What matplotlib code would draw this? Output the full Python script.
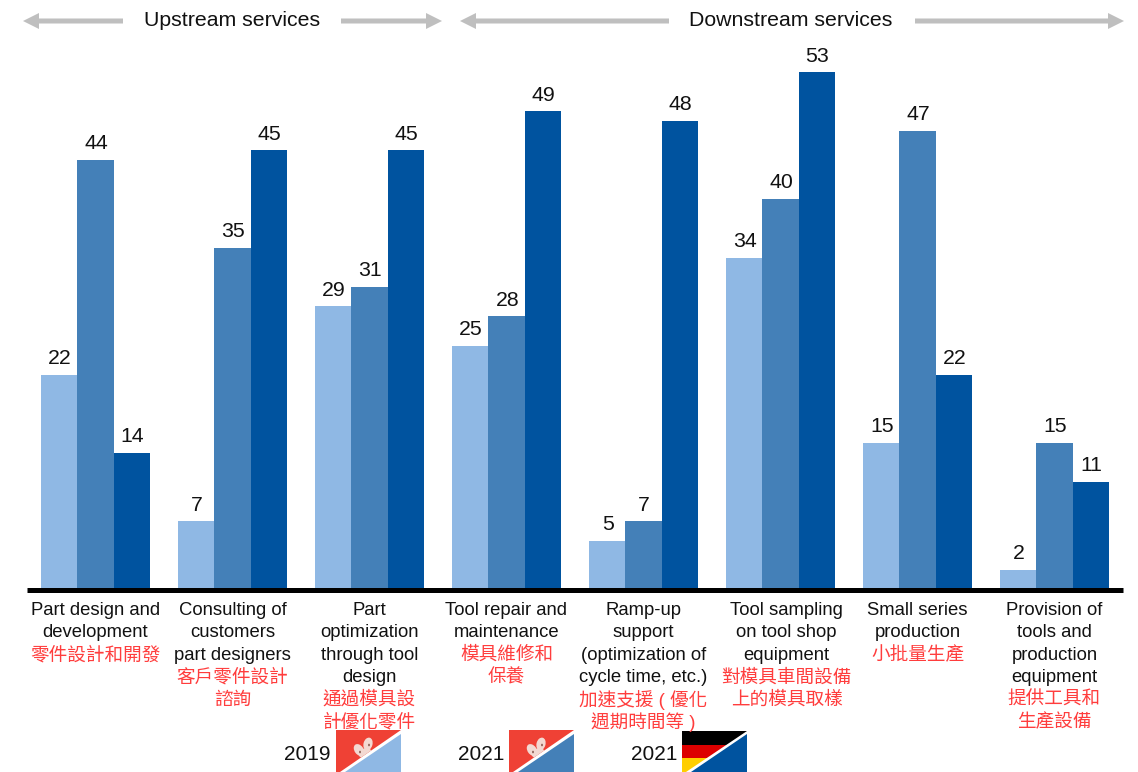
import matplotlib
matplotlib.use('Agg')
import matplotlib.pyplot as plt
from matplotlib.patches import Polygon, Rectangle, Ellipse

plt.rcParams['font.family'] = ['Liberation Sans', 'Noto Sans CJK TC', 'DejaVu Sans']

labels_en = ['Part design and\ndevelopment',
             'Consulting of\ncustomers\npart designers',
             'Part\noptimization\nthrough tool\ndesign',
             'Tool repair and\nmaintenance',
             'Ramp-up\nsupport\n(optimization of\ncycle time, etc.)',
             'Tool sampling\non tool shop\nequipment',
             'Small series\nproduction',
             'Provision of\ntools and\nproduction\nequipment']
labels_zh = ['零件設計和開發',
             '客戶零件設計\n諮詢',
             '通過模具設\n計優化零件',
             '模具維修和\n保養',
             '加速支援 ( 優化\n週期時間等 )',
             '對模具車間設備\n上的模具取樣',
             '小批量生產',
             '提供工具和\n生產設備']
hk_2019 = [22, 7, 29, 25, 5, 34, 15, 2]
hk_2021 = [44, 35, 31, 28, 7, 40, 47, 15]
de_2021 = [14, 45, 45, 49, 48, 53, 22, 11]
series = [hk_2019, hk_2021, de_2021]
colors = ['#8fb8e4', '#4480b8', '#00539f']
legend_years = ['2019', '2021', '2021']

W, H = 1138, 772
fig = plt.figure(figsize=(W / 100, H / 100), dpi=100)

# bar panel, zero sits under the thick baseline
top, bottom = 30, 589.5
ax = fig.add_axes([27 / W, 1 - bottom / H, (1123 - 27) / W, (bottom - top) / H])
ax.set_xlim(-0.5, 7.5)
ax.set_ylim(0, (bottom - top) / 9.76)
bw = 0.265
for i, vals in enumerate(series):
    for j, v in enumerate(vals):
        x = j + (i - 1) * bw
        ax.bar(x, v, bw, color=colors[i], linewidth=0)
        ax.annotate(str(v), (x, v), xytext=(0.5, 4.8), textcoords='offset points',
                    ha='center', va='bottom', fontsize=15.3, color='#111111')
for s in ['top', 'left', 'right']:
    ax.spines[s].set_visible(False)
ax.spines['bottom'].set_linewidth(3.6)
ax.spines['bottom'].set_color('black')
ax.spines['bottom'].set_capstyle('butt')
ax.set_xticks([])
ax.set_yticks([])

# overlay in pixel coordinates for headers, category text and flags
ov = fig.add_axes([0, 0, 1, 1])
ov.set_xlim(0, W)
ov.set_ylim(H, 0)
ov.axis('off')
ov.patch.set_alpha(0)

# header arrows
for x0, x1 in [(123, 23), (341, 442), (669, 460), (915, 1124)]:
    ov.arrow(x0, 21, x1 - x0, 0, width=5, head_width=16, head_length=16,
             length_includes_head=True, color='#bfbfbf', linewidth=0)
ov.text(232, 20, 'Upstream services', ha='center', va='center', fontsize=15.3, color='#111111')
ov.text(791, 20, 'Downstream services', ha='center', va='center', fontsize=15.3, color='#111111')

# category text, english lines then chinese lines
line_h = 22.4
for j in range(8):
    cx = 95.5 + 137 * j
    if j == 5:
        cx += 6  # this block sits a little right of its bars
    y = 610.5
    for line in labels_en[j].split('\n'):
        ov.text(cx, y, line, ha='center', va='center', fontsize=13.3, color='#111111')
        y += line_h
    for line in labels_zh[j].split('\n'):
        ov.text(cx, y, line, ha='center', va='center', fontsize=13.4, color='#ff3d3d')
        y += line_h


def flower(x0, clip):
    # pale petals with dark marks, cut off by the diagonal
    for dx, dy, ang in [(23, 20, -35), (32, 14, 15), (29, 23, 65)]:
        e = Ellipse((x0 + dx, 730 + dy), 9, 13, angle=ang, color='#f3d9d2', linewidth=0, zorder=4)
        ov.add_patch(e)
        e.set_clip_path(clip)
    for dx, dy in [(24, 22), (33, 15)]:
        ov.add_patch(Ellipse((x0 + dx, 730 + dy), 1.8, 2.6, color='#8a5a50', linewidth=0, zorder=5))


def flag(x0, color, german=False):
    x1 = x0 + 65
    y0, y1 = 730, 772
    upper = Polygon([(x0, y0), (x1, y0), (x0 + 4, y1), (x0, y1)], closed=True, color='#ef4135', linewidth=0)
    lower = Polygon([(x1, y0 + 4), (x1, y1), (x0 + 9, y1)], closed=True, color=color, linewidth=0)
    ov.add_patch(lower)
    if german:
        clip = Polygon([(x0, y0 + 1), (x1, y0 + 1), (x0 + 4, y1), (x0, y1)], closed=True,
                       transform=ov.transData, fill=False, linewidth=0)
        ov.add_patch(clip)
        for k, c in enumerate(['#000000', '#dd0000', '#ffce00']):
            r = Rectangle((x0, y0 + 1 + k * 13.7), 65, 13.7, color=c, linewidth=0)
            ov.add_patch(r)
            r.set_clip_path(clip)
    else:
        ov.add_patch(upper)
        flower(x0, upper)


for i, x0 in enumerate([336, 509, 682]):
    flag(x0, colors[i], german=(i == 2))
    ov.text(x0 - 5, 754, legend_years[i], ha='right', va='center', fontsize=15, color='#111111')

fig.savefig('out.png', dpi=100)
